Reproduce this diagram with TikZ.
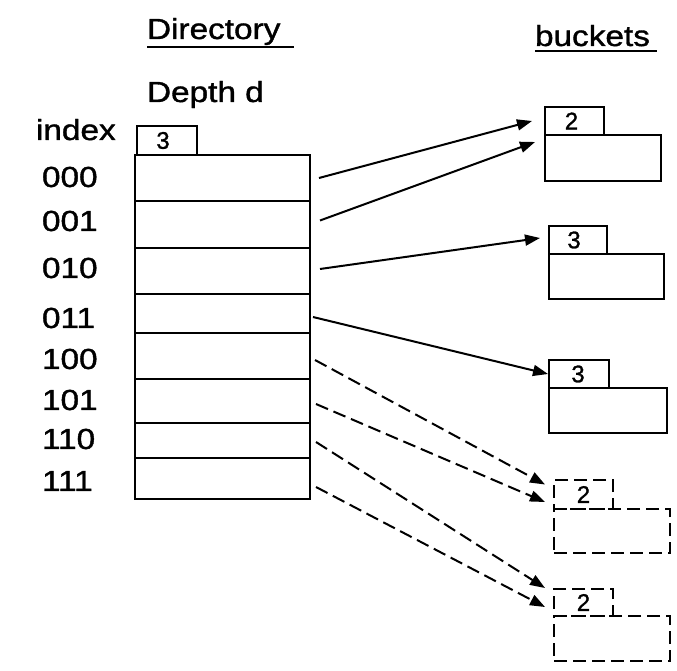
\documentclass[tikz,border=0pt]{standalone}
\usepackage{fontspec}
\setmainfont{Liberation Sans}[FakeBold=1.2]
\usetikzlibrary{arrows.meta}
\newcommand{\hstr}[1]{\scalebox{1.15}[1]{#1}}
\tikzset{
  lbl/.style={inner sep=0pt, outer sep=0pt, font=\fontsize{29}{34}\selectfont},
  cell/.style={draw, line width=2pt, minimum width=175pt, inner sep=0pt, outer sep=0pt, anchor=north west},
  bkt/.style={draw, line width=2pt, inner sep=0pt, outer sep=0pt, anchor=north west},
  tagbox/.style={draw, line width=2pt, inner sep=0pt, outer sep=0pt, anchor=south west, font=\fontsize{24}{26}\selectfont},
  dsh/.style={dash pattern=on 13pt off 6pt},
  arr/.style={line width=2pt, -{Triangle[length=15pt,width=11pt]}},
  uline/.style={line width=2pt},
}
\begin{document}
\begin{tikzpicture}[x=1pt,y=-1pt]
\useasboundingbox (0,0) rectangle (677,671);

% headings
\node[lbl, anchor=base west] (dir) at (147,39) {\hstr{Directory}};
\draw[uline] ([yshift=-8pt]dir.base west) -- ([yshift=-8pt,xshift=14pt]dir.base east);
\node[lbl, anchor=base west] (depth) at (147,102) {\hstr{Depth d}};
\node[lbl, anchor=base west] (idx) at (36,140) {\hstr{index}};
\node[lbl, anchor=base west] (bkts) at (535,46) {\hstr{buckets}};
\draw[uline] ([yshift=-5pt]bkts.base west) -- ([yshift=-5pt,xshift=7pt]bkts.base east);

% directory cells
\node[cell, minimum height=46pt] (r0) at (135,155) {};
\node[cell, minimum height=47pt] (r1) at (135,201) {};
\node[cell, minimum height=46pt] (r2) at (135,248) {};
\node[cell, minimum height=39pt] (r3) at (135,294) {};
\node[cell, minimum height=46pt] (r4) at (135,333) {};
\node[cell, minimum height=44pt] (r5) at (135,379) {};
\node[cell, minimum height=35pt] (r6) at (135,423) {};
\node[cell, minimum height=41pt] (r7) at (135,458) {};
\node[tagbox, minimum width=60pt, minimum height=29pt] (dt) at (137,155) {\hspace{-8pt}3};

% index labels
\node[lbl, anchor=west] (l0) at (42,177) {\hstr{000}};
\node[lbl, anchor=west] (l1) at (42,221) {\hstr{001}};
\node[lbl, anchor=west] (l2) at (42,268) {\hstr{010}};
\node[lbl, anchor=west] (l3) at (42,318) {\hstr{011}};
\node[lbl, anchor=west] (l4) at (42,359) {\hstr{100}};
\node[lbl, anchor=west] (l5) at (42,400) {\hstr{101}};
\node[lbl, anchor=west] (l6) at (42,439) {\hstr{110}};
\node[lbl, anchor=west] (l7) at (42,481) {\hstr{111}};

% buckets
\node[bkt, minimum width=116pt, minimum height=46pt] (b1) at (545,135) {};
\node[tagbox, minimum width=59pt, minimum height=28pt] (b1t) at (b1.north west) {\hspace{-6pt}2};
\node[bkt, minimum width=115pt, minimum height=45pt] (b2) at (549,254) {};
\node[tagbox, minimum width=58pt, minimum height=28pt] (b2t) at (b2.north west) {\hspace{-8pt}3};
\node[bkt, minimum width=118pt, minimum height=45pt] (b3) at (549,388) {};
\node[tagbox, minimum width=60pt, minimum height=28pt] (b3t) at (b3.north west) {\hspace{-2pt}3};
\node[bkt, dsh, minimum width=116pt, minimum height=44pt] (b4) at (554,509) {};
\node[tagbox, dsh, minimum width=59pt, minimum height=29pt] (b4t) at (b4.north west) {2};
\node[bkt, dsh, minimum width=116pt, minimum height=45pt] (b5) at (554,616) {};
\node[tagbox, dsh, minimum width=59pt, minimum height=27pt] (b5t) at (b5.north west) {2};

% pointers
\draw[arr] ([xshift=9pt]r0.east) -- ([xshift=-13pt]b1t.west);
\draw[arr] ([xshift=10pt,yshift=4pt]r1.east) -- ([xshift=-10pt,yshift=-7pt]b1.north west);
\draw[arr] ([xshift=10pt,yshift=2pt]r2.east) -- ([xshift=-9pt,yshift=2pt]b2t.west);
\draw[arr] ([xshift=3pt,yshift=-3.5pt]r3.east) -- ([xshift=-1pt]b3t.west);
\draw[arr, dsh] ([xshift=5pt,yshift=-4pt]r4.east) -- ([xshift=-9pt,yshift=10pt]b4t.west);
\draw[arr, dsh] ([xshift=6pt,yshift=-3pt]r5.east) -- ([xshift=-9pt,yshift=-7.5pt]b4t.west);
\draw[arr, dsh] ([xshift=6pt,yshift=-1.5pt]r6.east) -- ([xshift=-9pt,yshift=14.5pt]b5t.west);
\draw[arr, dsh] ([xshift=6pt,yshift=-8.5pt]r7.east) -- ([xshift=-9pt,yshift=-4.5pt]b5t.west);
\end{tikzpicture}
\end{document}
